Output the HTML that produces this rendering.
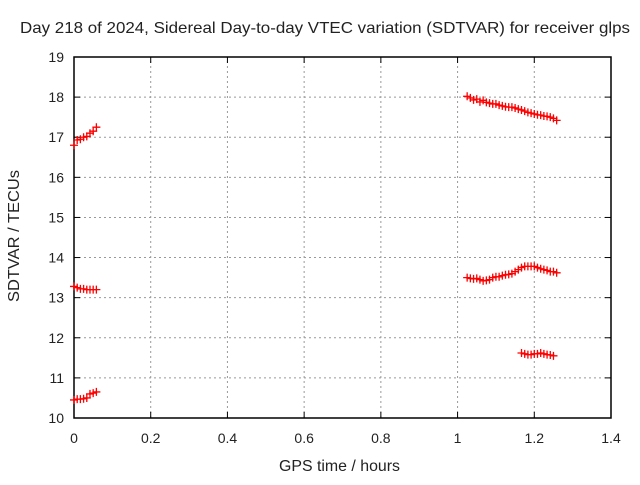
<!DOCTYPE html>
<html><head><meta charset="utf-8"><style>
body{margin:0;background:#fff}
text{font-family:"Liberation Sans",sans-serif;font-size:14px;fill:#222}
.big{font-size:16px}
</style></head><body>
<svg id="chart" width="640" height="480" xmlns="http://www.w3.org/2000/svg">
<rect width="640" height="480" fill="#fff"/>
<text class="big" x="20" y="33" textLength="610" lengthAdjust="spacingAndGlyphs">Day 218 of 2024, Sidereal Day-to-day VTEC variation (SDTVAR) for receiver glps</text>
<g id="grid"></g>
<g id="axes"></g>
<g id="marks"></g>
<text class="big" x="279" y="471" textLength="121" lengthAdjust="spacingAndGlyphs">GPS time / hours</text>
<text class="big" transform="translate(19,302) rotate(-90)" textLength="132" lengthAdjust="spacingAndGlyphs">SDTVAR / TECUs</text>
</svg>
<script>
const xTicks=[0,0.2,0.4,0.6,0.8,1,1.2,1.4];
const xTickLabels=["0","0.2","0.4","0.6","0.8","1","1.2","1.4"];
const yTicks=[10,11,12,13,14,15,16,17,18,19];
const earlyStart=0, lateStart=1.025, lowLateStart=1.1667, step=0.008333;
const earlyUpper=[16.8,16.93,16.95,17.0,17.02,17.1,17.15,17.25];
const earlyMid=[13.28,13.25,13.22,13.22,13.2,13.2,13.2,13.2];
const earlyLow=[10.45,10.47,10.47,10.48,10.5,10.6,10.62,10.65];
const lateUpper=[18.02,17.98,17.93,17.95,17.88,17.92,17.87,17.85,17.83,17.83,17.8,17.78,17.76,17.75,17.75,17.73,17.7,17.68,17.65,17.62,17.6,17.58,17.56,17.55,17.53,17.52,17.5,17.47,17.42];
const lateMid=[13.5,13.48,13.47,13.48,13.45,13.42,13.43,13.45,13.5,13.52,13.52,13.55,13.57,13.58,13.6,13.65,13.7,13.75,13.78,13.78,13.78,13.78,13.75,13.72,13.7,13.68,13.65,13.65,13.62];
const lateLow=[11.62,11.6,11.58,11.58,11.6,11.6,11.62,11.6,11.58,11.57,11.55];
const X0=74,X1=611,Y0=418,Y1=57;
const sx=v=>X0+(v-0)/(1.4-0)*(X1-X0);
const sy=v=>Y0-(v-10)/(19-10)*(Y0-Y1);
const NS="http://www.w3.org/2000/svg";
function mk(t,a,p){const e=document.createElementNS(NS,t);for(const k in a)e.setAttribute(k,a[k]);p.appendChild(e);return e;}
const grid=document.getElementById('grid'),axes=document.getElementById('axes'),marks=document.getElementById('marks');
xTicks.forEach((t,i)=>{const x=sx(t);
 if(i>0&&i<xTicks.length-1){const g=mk('line',{x1:x,x2:x,y1:Y0,y2:Y1,stroke:'#999','stroke-dasharray':'2,3'},grid);}
 const tk=mk('line',{x1:x,x2:x,y1:Y0,y2:Y0-6,stroke:'#000'},axes);
 mk('line',{x1:x,x2:x,y1:Y1,y2:Y1+6,stroke:'#000'},axes);
 const l=mk('text',{x:x,y:Y0+25,'text-anchor':'middle'},axes);l.textContent=xTickLabels[i];});
yTicks.forEach((t,i)=>{const y=sy(t);
 if(i>0&&i<yTicks.length-1){const g=mk('line',{x1:X0,x2:X1,y1:y,y2:y,stroke:'#999','stroke-dasharray':'2,3'},grid);}
 const tk=mk('line',{x1:X0,x2:X0+6,y1:y,y2:y,stroke:'#000'},axes);
 mk('line',{x1:X1,x2:X1-6,y1:y,y2:y,stroke:'#000'},axes);
 const l=mk('text',{x:X0-10,y:y+5,'text-anchor':'end'},axes);l.textContent=String(t);});
const fr=mk('rect',{x:X0,y:Y1,width:X1-X0,height:Y0-Y1,fill:'none',stroke:'#000','stroke-width':1.5},axes);

function series(vals,start){vals.forEach((v,i)=>{const x=sx(start+i*step),y=sy(v);
 const p=mk('path',{d:`M${x-4},${y}H${x+4}M${x},${y-4}V${y+4}`,stroke:'#f00','stroke-width':1.3,fill:'none'},marks);
 });}
series(earlyUpper,earlyStart);series(earlyMid,earlyStart);series(earlyLow,earlyStart);
series(lateUpper,lateStart);series(lateMid,lateStart);series(lateLow,lowLateStart);
</script>
</body></html>
